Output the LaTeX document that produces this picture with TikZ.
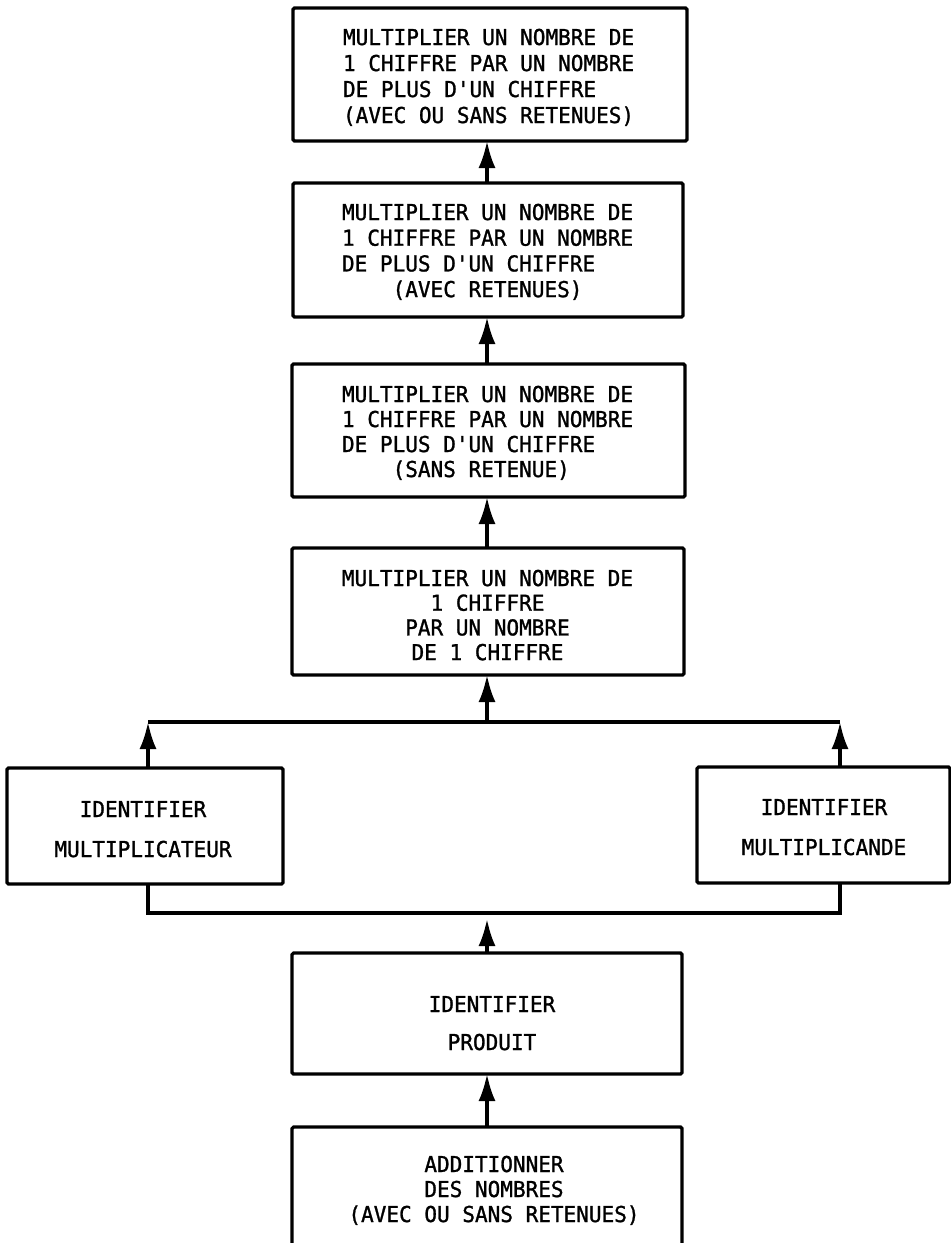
\documentclass[tikz,border=0pt]{standalone}
\usepackage{fontspec}
\newfontfamily\monofnt[FakeStretch=0.96,FakeBold=1.2]{DejaVu Sans Mono}
\usetikzlibrary{arrows.meta}
\newcommand\linesC[2]{\vtop{\baselineskip=#1\lineskiplimit=-\maxdimen\lineskip=0pt\halign{\hfil##\hfil\cr#2\crcr}}}
\newcommand\linesL[2]{\vtop{\baselineskip=#1\lineskiplimit=-\maxdimen\lineskip=0pt\halign{##\hfil\cr#2\crcr}}}
\newcommand\ind[1]{\hphantom{#1}}
\begin{document}
\begin{tikzpicture}[x=1pt,y=-1pt,
  boxnode/.style={draw=black,line width=3.2pt,inner sep=0pt,outer sep=0pt,rounded corners=1.5pt},
  txt/.style={inner sep=0pt,outer sep=0pt,font=\monofnt\fontsize{21.9}{25}\selectfont},
  link/.style={line width=3.2pt},
  arr/.style={line width=3.2pt,-{Latex[length=27pt,width=17pt]}}]
\useasboundingbox[fill=white] (0,0) rectangle (951,1243);

% boxes
\node[boxnode,minimum width=394pt,minimum height=133pt] (b1) at (490,74.5) {};
\node[boxnode,minimum width=390pt,minimum height=134pt] (b2) at (488,250) {};
\node[boxnode,minimum width=393pt,minimum height=133pt] (b3) at (488.5,430.5) {};
\node[boxnode,minimum width=392pt,minimum height=127pt] (b4) at (488,611.5) {};
\node[boxnode,minimum width=276pt,minimum height=116pt] (bl) at (145,826) {};
\node[boxnode,minimum width=253pt,minimum height=116pt] (br) at (823.5,825) {};
\node[boxnode,minimum width=390pt,minimum height=121pt] (b5) at (487,1013.5) {};
\node[boxnode,minimum width=390pt,minimum height=173pt] (b6) at (487,1213.5) {};

% texts
\node[txt,anchor=base west] (t1) at (343,45) {\linesL{26pt}{MULTIPLIER UN NOMBRE DE\cr 1 CHIFFRE PAR UN NOMBRE\cr DE PLUS D'UN CHIFFRE\cr (AVEC OU SANS RETENUES)}};
\node[txt,anchor=base west] (t2) at (342,220) {\linesL{25.7pt}{MULTIPLIER UN NOMBRE DE\cr 1 CHIFFRE PAR UN NOMBRE\cr DE PLUS D'UN CHIFFRE\cr \ind{XXXX}(AVEC RETENUES)}};
\node[txt,anchor=base west] (t3) at (342,402) {\linesL{25pt}{MULTIPLIER UN NOMBRE DE\cr 1 CHIFFRE PAR UN NOMBRE\cr DE PLUS D'UN CHIFFRE\cr \ind{XXXX}(SANS RETENUE)}};
\node[txt,anchor=base] (t4) at (487.5,586) {\linesC{24.7pt}{MULTIPLIER UN NOMBRE DE\cr 1 CHIFFRE\cr PAR UN NOMBRE\cr DE 1 CHIFFRE}};
\node[txt,anchor=base] (tl) at (143,817) {\linesC{40pt}{IDENTIFIER\cr MULTIPLICATEUR}};
\node[txt,anchor=base] (tr) at (824,815) {\linesC{40pt}{IDENTIFIER\cr MULTIPLICANDE}};
\node[txt,anchor=base] (t5) at (492,1012) {\linesC{38pt}{IDENTIFIER\cr PRODUIT}};
\node[txt,anchor=base] (t6) at (494,1172) {\linesC{25pt}{ADDITIONNER\cr DES NOMBRES\cr (AVEC OU SANS RETENUES)}};

% junction coordinates
\coordinate (jt) at (487,722);
\coordinate (lt) at (148,722);
\coordinate (rt) at (840,722);
\coordinate (jb) at (487,913);
\coordinate (lb) at (148,913);
\coordinate (rb) at (840,913);

% connectors
\draw[arr] (b2.north -| jt) -- (b1.south -| jt);
\draw[arr] (b3.north -| jt) -- (b2.south -| jt);
\draw[arr] (b4.north -| jt) -- (b3.south -| jt);
\draw[arr] (jt) -- (b4.south -| jt);
\draw[link] (lt) -- (rt);
\draw[arr] (bl.north -| lt) -- (lt);
\draw[arr] (br.north -| rt) -- (rt);
\draw[link] (bl.south -| lb) -- (lb) -- (rb) -- (br.south -| rb);
\draw[arr,shorten >=6pt] (b5.north -| jb) -- (jb);
\draw[arr] (b6.north -| jb) -- (b5.south -| jb);
\end{tikzpicture}
\end{document}
